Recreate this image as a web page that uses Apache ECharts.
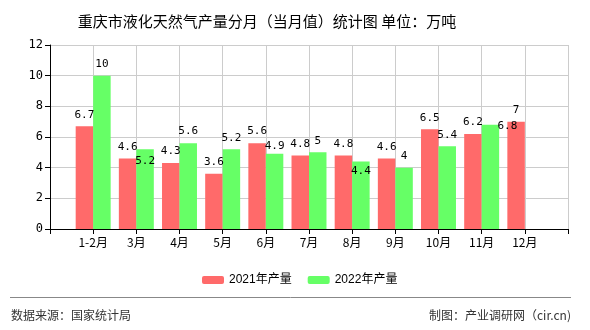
<!DOCTYPE html>
<html>
<head>
<meta charset="utf-8">
<script src="https://cdn.jsdelivr.net/npm/echarts@6/dist/echarts.min.js"></script>
<style>html,body{margin:0;padding:0;background:#fff}#c{width:590px;height:330px}</style>
</head>
<body>
<div id="c"></div>
<script>
var months = ['1-2月','3月','4月','5月','6月','7月','8月','9月','10月','11月','12月'];
var output2021 = [6.7, 4.6, 4.3, 3.6, 5.6, 4.8, 4.8, 4.6, 6.5, 6.2, 7];
var output2022 = [10, 5.2, 5.6, 5.2, 4.9, 5, 4.4, 4, 5.4, 6.8, null];
var seriesNames = ['2021年产量', '2022年产量'];
var yTicks = [0, 2, 4, 6, 8, 10, 12];

// label nudges (layout only) for collided labels in the reference
var labelNudge2022 = {1: [0, 23], 4: [0, 4], 6: [0, 21], 9: [17, 13]};

var cats = [''].concat(months, ['']);
function pad(arr, nudges) {
  var out = [null];
  arr.forEach(function (v, i) {
    if (nudges && nudges[i]) out.push({value: v, label: {offset: nudges[i]}});
    else out.push(v);
  });
  out.push(null);
  return out;
}

var chart = echarts.init(document.getElementById('c'), null, {renderer: 'canvas'});
var numFont = 'DejaVu Sans Mono';
var option = {
  animation: false,
  backgroundColor: '#fff',
  title: {
    text: '重庆市液化天然气产量分月（当月值）统计图 单位：万吨',
    left: 262, top: 9, textAlign: 'center',
    textStyle: {fontSize: 15, fontWeight: 'normal', color: '#000', fontFamily: 'Noto Sans CJK SC'}
  },
  grid: {left: 50, right: 22, top: 45, bottom: 101},
  legend: {
    left: 197, top: 269,
    itemWidth: 22, itemHeight: 8, itemGap: 16,
    textStyle: {fontSize: 12, color: '#000', fontFamily: 'Liberation Sans, Noto Sans CJK SC'},
    data: seriesNames
  },
  xAxis: {
    type: 'category',
    data: cats,
    boundaryGap: false,
    axisLine: {lineStyle: {color: '#000', width: 1}},
    axisTick: {show: true, length: 5, lineStyle: {color: '#000'}},
    axisLabel: {color: '#000', fontSize: 12, margin: 7, fontFamily: 'Noto Sans CJK SC', interval: 0},
    splitLine: {show: true, lineStyle: {color: '#ccc', width: 1}}
  },
  yAxis: {
    type: 'value',
    min: yTicks[0], max: yTicks[yTicks.length - 1], interval: yTicks[1] - yTicks[0],
    axisLine: {show: true, lineStyle: {color: '#000', width: 1}},
    axisTick: {show: true, length: 5, lineStyle: {color: '#000'}},
    axisLabel: {color: '#000', fontSize: 12, margin: 7, fontFamily: numFont},
    splitLine: {show: true, lineStyle: {color: '#ccc', width: 1}}
  },
  series: [
    {
      name: seriesNames[0], type: 'bar', data: pad(output2021),
      barGap: 0, barCategoryGap: '19%',
      itemStyle: {color: '#ff6a6a'},
      label: {show: true, position: 'top', distance: 6, color: '#000', fontSize: 11, fontFamily: numFont}
    },
    {
      name: seriesNames[1], type: 'bar', data: pad(output2022, labelNudge2022),
      barGap: 0, barCategoryGap: '19%',
      itemStyle: {color: '#66ff66'},
      label: {show: true, position: 'top', distance: 6, color: '#000', fontSize: 11, fontFamily: numFont}
    }
  ],
  graphic: [
    {type: 'line', shape: {x1: 10, y1: 297.5, x2: 571, y2: 297.5}, style: {stroke: '#888', lineWidth: 1}},
    {type: 'text', left: 11, top: 309, style: {text: '数据来源：国家统计局', fill: '#333', fontSize: 12, fontFamily: 'Noto Sans CJK SC'}},
    {type: 'text', right: 19, top: 309, style: {text: '制图：产业调研网（cir.cn)', fill: '#333', fontSize: 12, fontFamily: 'Noto Sans CJK SC'}}
  ]
};
chart.setOption(option);
</script>
</body>
</html>
